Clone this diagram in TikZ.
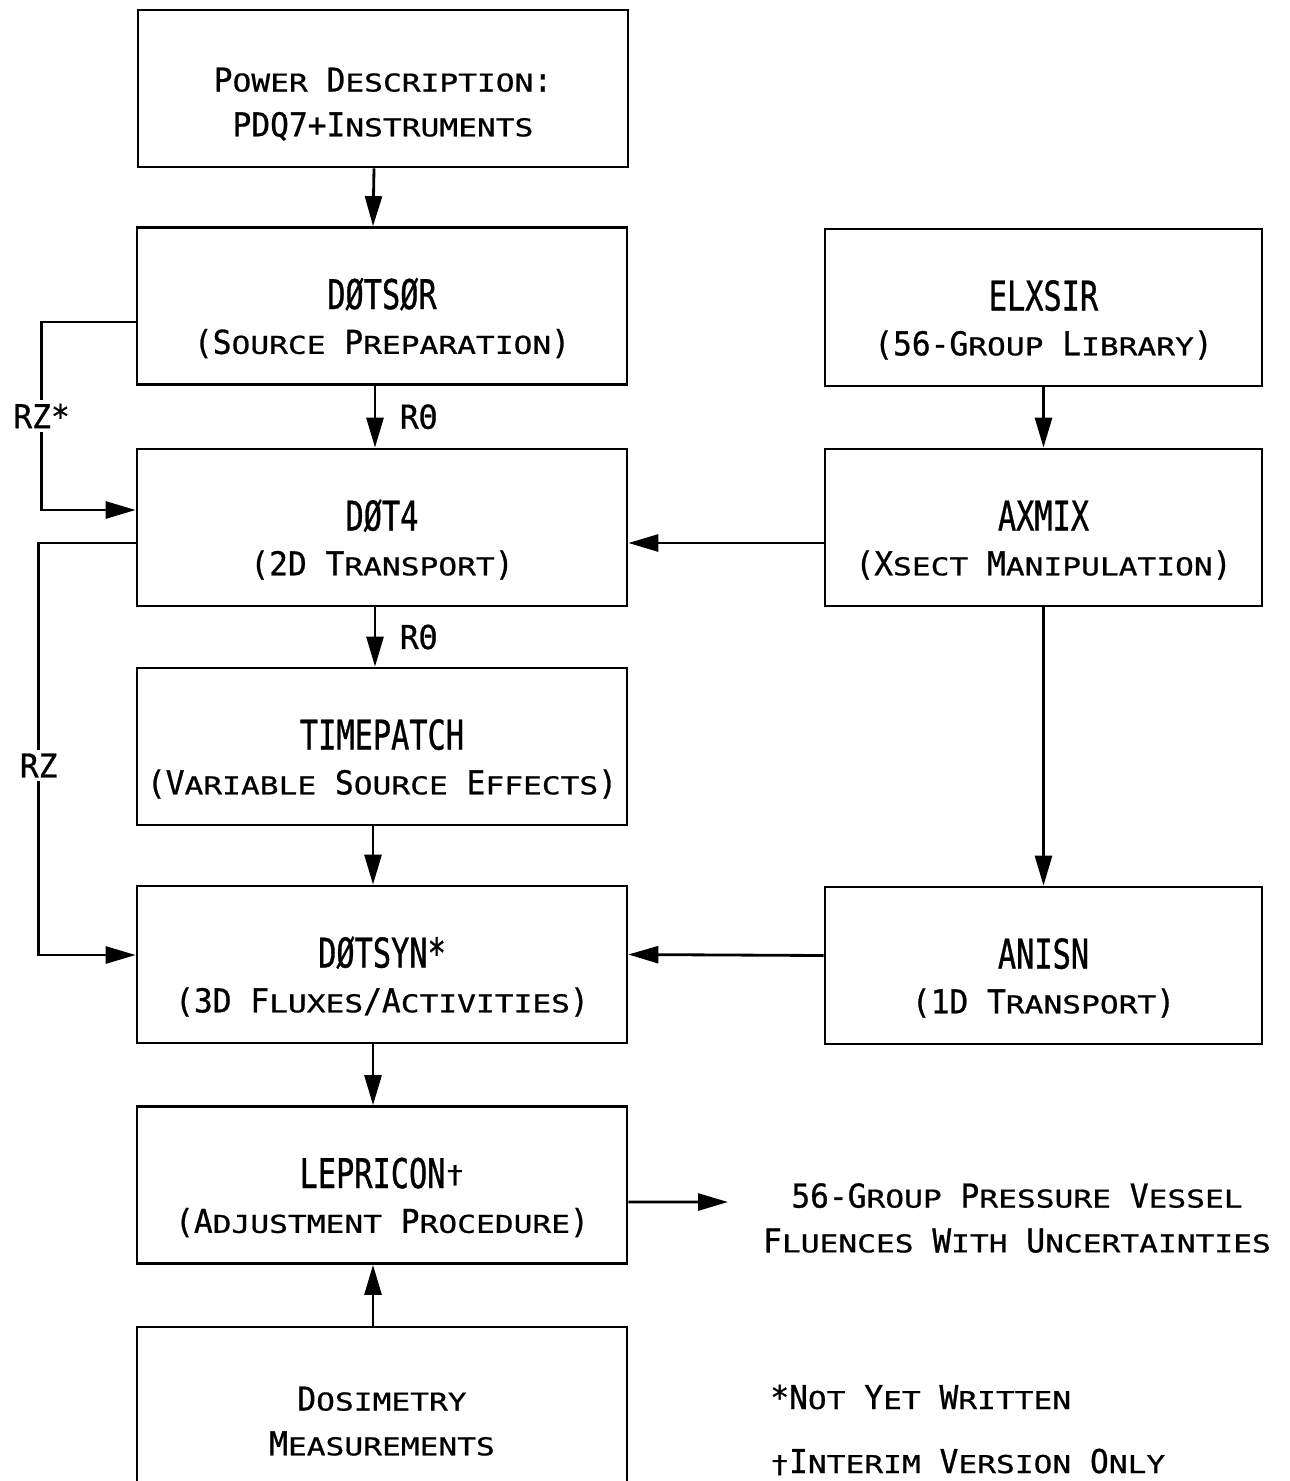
\documentclass[tikz,border=0pt]{standalone}
\usepackage{fontspec}
\usetikzlibrary{arrows.meta}
\newfontfamily\ttlface{DejaVu Sans Mono}[FakeStretch=0.74,FakeBold=0.8]
\newfontfamily\bigface{DejaVu Sans Mono}[FakeStretch=0.95,FakeBold=0.8]
\newfontfamily\smface{DejaVu Sans Mono}[FakeStretch=1.27,FakeBold=0.8]
\newcommand{\Tfont}{\ttlface\fontsize{23.3}{25.5}\selectfont}
\newcommand{\Bfont}{\bigface\fontsize{18.7}{25.5}\selectfont}
\newcommand{\smc}[1]{{\smface\fontsize{14}{25.5}\selectfont #1}}
\tikzset{
  prog/.style={draw, line width=1.6pt, minimum width=9.8cm, minimum height=3.14cm,
    inner ysep=0pt, align=center, font=\Bfont, execute at begin node={\rule{0pt}{2.0cm}}},
  lib/.style={prog, minimum width=8.74cm},
  flow/.style={line width=1.6pt, -{Triangle[length=0.6cm,width=0.34cm]}},
  lbl/.style={font=\Bfont, inner sep=2pt},
}
\begin{document}
\begin{tikzpicture}[x=0.02cm, y=-0.02cm]
  \useasboundingbox (0,0) rectangle (1290,1481);
  \clip (0,0) rectangle (1290,1481);
  % left column
  \node[prog] (power) at (383,88.5) {P\smc{OWER} D\smc{ESCRIPTION}:\\PDQ7+I\smc{NSTRUMENTS}};
  \node[prog] (dotsor) at (382,306) {{\Tfont DØTSØR}\\(S\smc{OURCE} P\smc{REPARATION})};
  \node[prog] (dot4) at (382,527.5) {{\Tfont DØT4}\\(2D T\smc{RANSPORT})};
  \node[prog] (timepatch) at (382,746.5) {{\Tfont TIMEPATCH}\\(V\smc{ARIABLE} S\smc{OURCE} E\smc{FFECTS})};
  \node[prog] (dotsyn) at (382,964.5) {{\Tfont DØTSYN*}\\(3D F\smc{LUXES}/A\smc{CTIVITIES})};
  \node[prog] (lepricon) at (382,1185) {{\Tfont LEPRICON}\raisebox{0.15em}{\smc{†}}\\(A\smc{DJUSTMENT} P\smc{ROCEDURE})};
  \node[prog, execute at begin node={\rule{0pt}{1.36cm}}] (dosimetry) at (382,1405.5) {D\smc{OSIMETRY}\\M\smc{EASUREMENTS}};
  % right column
  \node[lib] (elxsir) at (1043.5,307.5) {{\Tfont ELXSIR}\\(56-G\smc{ROUP} L\smc{IBRARY})};
  \node[lib] (axmix) at (1043.5,527.5) {{\Tfont AXMIX}\\(X\smc{SECT} M\smc{ANIPULATION})};
  \node[lib] (anisn) at (1043.5,965.5) {{\Tfont ANISN}\\(1D T\smc{RANSPORT})};
  % output and notes
  \node[lbl, align=center] (fluence) at (1017,1218) {56-G\smc{ROUP} P\smc{RESSURE} V\smc{ESSEL}\\F\smc{LUENCES} W\smc{ITH} U\smc{NCERTAINTIES}};
  \node[lbl, anchor=west, inner sep=0pt] (note1) at (770,1397) {*N\smc{OT} Y\smc{ET} W\smc{RITTEN}};
  \node[lbl, anchor=west, inner sep=0pt] (note2) at (770,1462) {\smc{†}I\smc{NTERIM} V\smc{ERSION} O\smc{NLY}};
  \coordinate (outend) at (728,1202);
  % connectors
  \draw[flow] ([xshift=-0.18cm]power.south) -- ([xshift=-0.18cm]dotsor.north);
  \draw[flow] ([xshift=-0.14cm]dotsor.south) -- node[lbl, right=0.4cm]{RΘ} ([xshift=-0.14cm]dot4.north);
  \draw[flow] ([xshift=-0.14cm]dot4.south) -- node[lbl, right=0.4cm]{RΘ} ([xshift=-0.14cm]timepatch.north);
  \draw[flow] ([xshift=-0.18cm]timepatch.south) -- ([xshift=-0.18cm]dotsyn.north);
  \draw[flow] ([xshift=-0.18cm]dotsyn.south) -- ([xshift=-0.18cm]lepricon.north);
  \draw[flow] ([xshift=-0.18cm]dosimetry.north) -- ([xshift=-0.18cm]lepricon.south);
  \draw[flow] (elxsir) -- (axmix);
  \draw[flow] (axmix) -- (anisn);
  \draw[flow] ([yshift=-0.31cm]axmix.west) -- ([yshift=-0.31cm]dot4.east);
  \draw[flow] ([yshift=0.2cm]anisn.west) -- ([yshift=0.2cm]dotsyn.east);
  \draw[flow] ([yshift=-0.34cm]lepricon.east) -- (outend);
  \draw[flow] ([yshift=-0.32cm]dotsor.west) -- ++(-94,0) |- node[pos=0.25, lbl, fill=white]{RZ*} ([yshift=0.35cm]dot4.west);
  \draw[flow] ([yshift=-0.31cm]dot4.west) -- ++(-97,0) |- node[pos=0.27, lbl, fill=white]{RZ} ([yshift=0.19cm]dotsyn.west);
\end{tikzpicture}
\end{document}
